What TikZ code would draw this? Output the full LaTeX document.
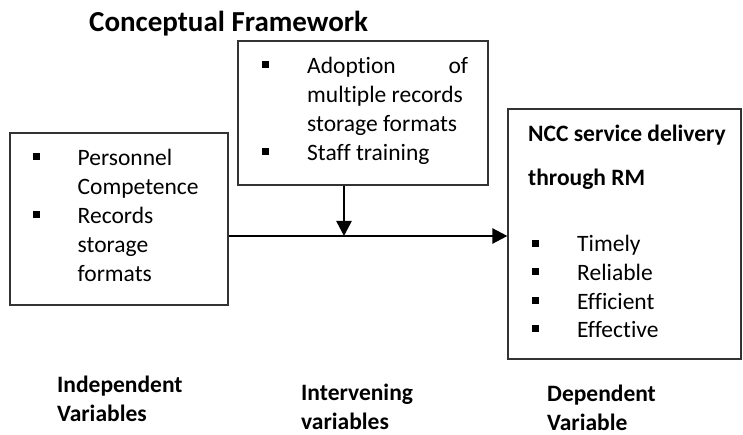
\documentclass[tikz,border=0pt]{standalone}
\usepackage{fontspec}
\setmainfont{Carlito}[Ligatures=NoCommon]
\usetikzlibrary{arrows.meta, positioning, calc}

% square bullet, a bulleted entry and a stack of lines
\newcommand{\sqb}{\rule[5.5pt]{7pt}{7pt}}
\newcommand{\itm}[1]{\makebox[45pt][l]{\sqb}#1}
\newcommand{\stk}[1]{\begin{tabular}[t]{@{}l@{}}#1\end{tabular}}

\begin{document}
\begin{tikzpicture}[
    x=1pt, y=-1pt,
    font=\fontsize{23.5}{29}\selectfont,
    box/.style ={rectangle, draw=black!80, line width=1.2pt, inner sep=0pt},
    txt/.style ={anchor=base west, inner sep=0pt},
    head/.style={txt, font=\fontsize{23.5}{44}\selectfont\bfseries},
    vlab/.style={txt, font=\fontsize{23.5}{29}\selectfont\bfseries},
    arr/.style ={-{Triangle[length=15pt, width=15pt]}, line width=2.6pt}
]
\useasboundingbox (0,0) rectangle (743,435);

\node[anchor=base west, inner sep=0pt, font=\fontsize{29}{34}\selectfont\bfseries]
    (title) at (89,32) {Conceptual Framework};

% Boxes
\node[box, minimum width=218pt, minimum height=172pt] (indep)  at (119,219)   {};
\node[box, minimum width=250pt, minimum height=144pt] (interv) at (363,113)   {};
\node[box, minimum width=233pt, minimum height=250pt] (dep)    at (624.5,234) {};

% Box contents
\node[txt] (indep-list) at (32.5,166)
    {\stk{\itm{Personnel}\\ \hspace*{45pt}Competence\\ \itm{Records}\\
     \hspace*{45pt}storage\\ \hspace*{45pt}formats}};
\node[txt] (interv-list) at (262,74)
    {\stk{\itm{\makebox[161pt][l]{Adoption\hfill of}}\\ \hspace*{45pt}multiple records\\
     \hspace*{45pt}storage formats\\ \itm{Staff training}}};
\node[head] (dep-head) at (528,142) {\stk{NCC service delivery\\through RM}};
\node[txt, font=\fontsize{23.5}{28.5}\selectfont] (dep-list) at (532,252)
    {\stk{\itm{Timely}\\ \itm{Reliable}\\ \itm{Efficient}\\ \itm{Effective}}};

% Variable labels
\node[vlab] (lbl-indep)  at (57,392)  {\stk{Independent\\Variables}};
\node[vlab] (lbl-interv) at (301,400) {\stk{Intervening\\variables}};
\node[vlab] (lbl-dep)    at (547,401) {\stk{Dependent\\Variable}};

% Arrows
\coordinate (meet) at (344,236);
\draw[arr] (indep.east |- meet) -- (dep.west |- meet);
\draw[arr] (interv.south -| meet) -- (meet);
\end{tikzpicture}
\end{document}
